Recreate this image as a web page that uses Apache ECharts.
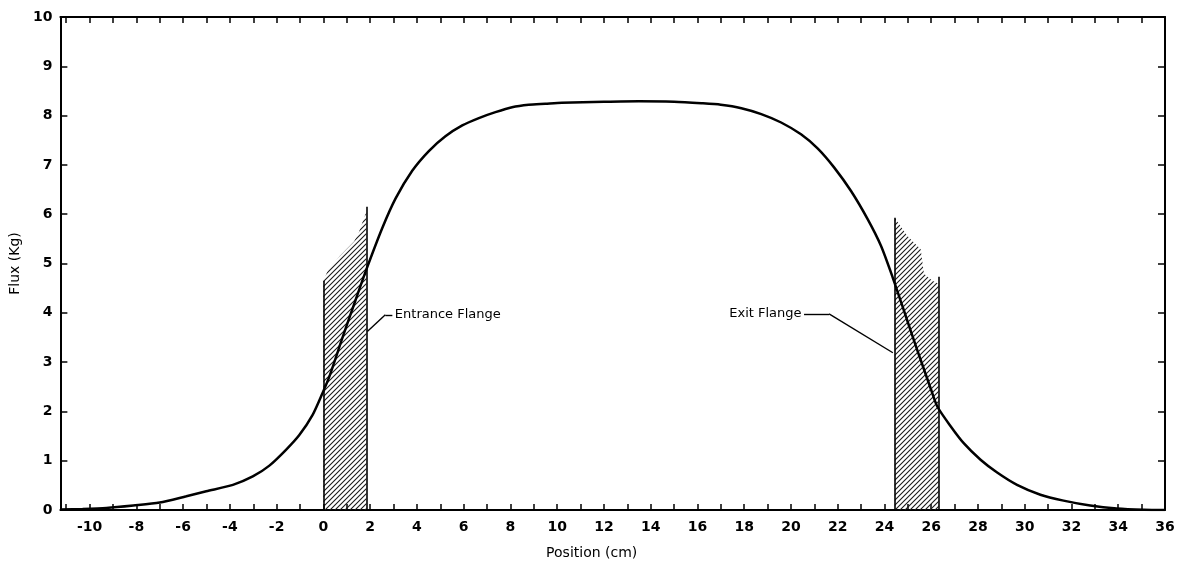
<!DOCTYPE html>
<html>
<head>
<meta charset="utf-8">
<script src="https://cdn.jsdelivr.net/npm/echarts@6/dist/echarts.min.js"></script>
<style>html,body{margin:0;padding:0;background:#fff}#c{width:1180px;height:565px}</style>
</head>
<body>
<div id="c"></div>
<script>
// Main flux curve (position cm, flux kG)
const positions = [-11.25, -10.3, -9.28, -8.13, -7.0, -5.86, -5.01, -3.87, -3.02, -2.31, -1.6, -1.03, -0.46, -0.03, 0.25, 0.82, 1.37, 1.84, 2.52, 3.09, 3.8, 4.51, 5.22, 5.94, 6.65, 7.36, 8.07, 8.78, 9.49, 10.2, 12, 13.5, 15, 16.17, 17.0, 17.88, 18.73, 19.58, 20.43, 21.15, 21.86, 22.57, 23.28, 23.85, 24.35, 24.9, 25.37, 25.98, 26.26, 26.83, 27.4, 28.11, 28.82, 29.67, 30.67, 31.66, 32.8, 33.94, 35.1, 36];
const flux = [0.01, 0.02, 0.04, 0.09, 0.15, 0.28, 0.38, 0.51, 0.68, 0.90, 1.22, 1.52, 1.93, 2.38, 2.70, 3.50, 4.25, 4.88, 5.72, 6.32, 6.88, 7.28, 7.58, 7.80, 7.95, 8.07, 8.17, 8.22, 8.24, 8.26, 8.28, 8.29, 8.28, 8.25, 8.22, 8.15, 8.03, 7.86, 7.62, 7.33, 6.94, 6.47, 5.90, 5.36, 4.72, 3.95, 3.29, 2.46, 2.10, 1.70, 1.35, 1.02, 0.76, 0.51, 0.31, 0.19, 0.09, 0.03, 0.005, 0];

// Entrance flange (hatched region)
const entranceX = [0, 0.18, 0.7, 1.32, 1.53, 1.74, 1.84];
const entranceTop = [4.65, 4.85, 5.15, 5.45, 5.65, 5.93, 6.05];
const entranceEdges = [[0, 4.65], [1.84, 6.15]];   // [x, top of edge line]

// Exit flange (hatched region)
const exitX = [24.44, 24.98, 25.55, 25.69, 26.05, 26.32];
const exitTop = [5.93, 5.56, 5.29, 4.79, 4.65, 4.59];
const exitEdges = [[24.44, 5.93], [26.32, 4.73]];

// Annotations
const entranceLabel = 'Entrance Flange';
const entranceLeader = [[1.88, 3.62], [2.65, 3.96], [2.95, 3.96]];
const exitLabel = 'Exit Flange';
const exitLeader = [[20.56, 3.98], [21.63, 3.98], [24.36, 3.19]];

// Axes
const xMin = -11.25, xMax = 36;
const xTickValues = []; for (let v = -11; v <= 36; v++) xTickValues.push(v);
const xLabelValues = [-10, -8, -6, -4, -2, 0, 2, 4, 6, 8, 10, 12, 14, 16, 18, 20, 22, 24, 26, 28, 30, 32, 34, 36];
const yMin = 0, yMax = 10, yInterval = 1;
const xName = 'Position (cm)';
const yName = 'Flux (Kg)';

// hatch pattern
function hatch() {
  const s = 5;
  const c = document.createElement('canvas');
  c.width = s; c.height = s;
  const g = c.getContext('2d');
  g.strokeStyle = '#1a1a1a';
  g.lineWidth = 1.1;
  g.beginPath();
  g.moveTo(0, s); g.lineTo(s, 0);
  g.moveTo(-1, 1); g.lineTo(1, -1);
  g.moveTo(s - 1, s + 1); g.lineTo(s + 1, s - 1);
  g.stroke();
  return {image: c, repeat: 'repeat'};
}
const pat = hatch();
const font = 'DejaVu Sans';
const ink = '#000';

function zip(a, b) { return a.map((v, i) => [v, b[i]]); }
function edgeLines(edges) {
  return edges.map(e => [{coord: [e[0], 0]}, {coord: [e[0], e[1]]}]);
}
function leaderLines(pts) {
  const out = [];
  for (let i = 0; i < pts.length - 1; i++) {
    out.push([{coord: pts[i], symbol: 'none'}, {coord: pts[i + 1], symbol: 'none'}]);
  }
  return out;
}

const chart = echarts.init(document.getElementById('c'), null, {renderer: 'canvas'});
const axisLine = {show: true, onZero: false, lineStyle: {color: ink, width: 2}};
const xCommon = {
  type: 'value', min: xMin, max: xMax,
  axisLine: axisLine,
  axisTick: {show: true, inside: true, length: 6, customValues: xTickValues, lineStyle: {color: ink, width: 1.5}},
  splitLine: {show: false}
};
const yCommon = {
  type: 'value', min: yMin, max: yMax, interval: yInterval,
  axisLine: axisLine,
  axisTick: {show: true, inside: true, length: 7, lineStyle: {color: ink, width: 1.5}},
  splitLine: {show: false}
};

chart.setOption({
  animation: false,
  backgroundColor: '#fff',
  grid: {left: 57, right: 15, top: 17, bottom: 53, containLabel: false},
  xAxis: [
    Object.assign({}, xCommon, {
      position: 'bottom',
      name: xName, nameLocation: 'middle', nameGap: 36,
      nameTextStyle: {fontFamily: font, fontSize: 14, color: ink, padding: [0, 42, 0, 0]},
      axisLabel: {show: true, customValues: xLabelValues, margin: 10, fontFamily: font, fontSize: 14, fontWeight: 'bold', color: ink}
    }),
    Object.assign({}, xCommon, {position: 'top', axisLabel: {show: false}})
  ],
  yAxis: [
    Object.assign({}, yCommon, {
      position: 'left',
      name: yName, nameLocation: 'middle', nameGap: 29,
      nameTextStyle: {fontFamily: font, fontSize: 14, color: ink},
      axisLabel: {show: true, margin: 8, fontFamily: font, fontSize: 14, fontWeight: 'bold', color: ink}
    }),
    Object.assign({}, yCommon, {position: 'right', axisLabel: {show: false}})
  ],
  series: [
    {
      name: 'entrance', type: 'line', data: zip(entranceX, entranceTop),
      symbol: 'none', lineStyle: {width: 0}, areaStyle: {color: pat, opacity: 1}, z: 2,
      markLine: {silent: true, symbol: 'none', label: {show: false}, animation: false,
        lineStyle: {color: ink, width: 1.6, type: 'solid'}, data: edgeLines(entranceEdges)}
    },
    {
      name: 'exit', type: 'line', data: zip(exitX, exitTop),
      symbol: 'none', lineStyle: {width: 0}, areaStyle: {color: pat, opacity: 1}, z: 2,
      markLine: {silent: true, symbol: 'none', label: {show: false}, animation: false,
        lineStyle: {color: ink, width: 1.6, type: 'solid'}, data: edgeLines(exitEdges)}
    },
    {
      name: 'flux', type: 'line', data: zip(positions, flux),
      symbol: 'none', smooth: 0.25, lineStyle: {color: ink, width: 2.5}, z: 5
    },
    {
      name: 'labels', type: 'scatter', symbolSize: 1, itemStyle: {color: 'rgba(0,0,0,0)'}, z: 6,
      data: [
        {value: entranceLeader[entranceLeader.length - 1], label: {show: true, position: 'right', distance: 2, formatter: entranceLabel}},
        {value: exitLeader[0], label: {show: true, position: 'left', distance: 2, formatter: exitLabel}}
      ],
      label: {fontFamily: font, fontSize: 13, color: ink, opacity: 1},
      markLine: {silent: true, label: {show: false}, animation: false,
        lineStyle: {color: ink, width: 1.4, type: 'solid', opacity: 1},
        data: leaderLines(entranceLeader).concat(leaderLines(exitLeader))}
    }
  ]
});
</script>
</body>
</html>
